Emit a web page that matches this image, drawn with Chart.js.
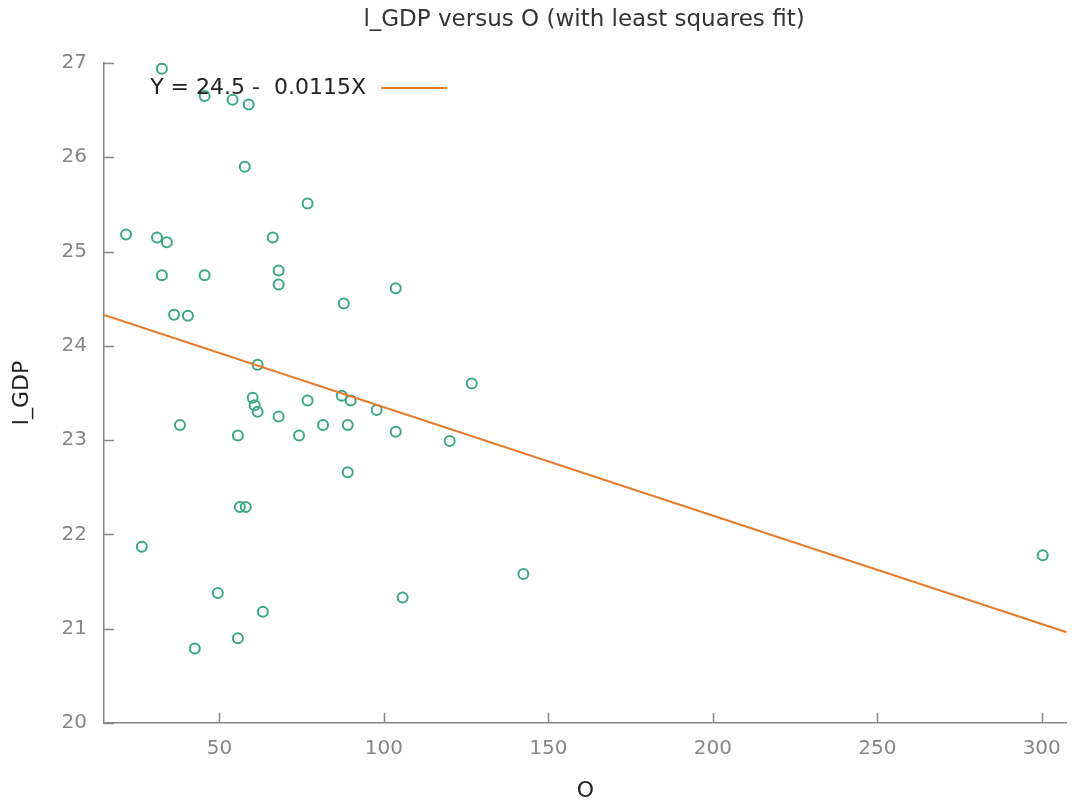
<!DOCTYPE html>
<html>
<head>
<meta charset="utf-8">
<script src="https://cdn.jsdelivr.net/npm/chart.js@4.4.0/dist/chart.umd.min.js"></script>
<style>
  html, body { margin: 0; padding: 0; background: #fff; }
  #wrap { width: 1075px; height: 805px; }
</style>
</head>
<body>
<div id="wrap"><canvas id="scatterChart"></canvas></div>
<script>
const CHART = document.getElementById("scatterChart");

// O values (x) and l_GDP values (y)
var o_values = [32.5, 45.5, 54.0, 58.9, 57.7, 76.8, 21.6, 31.0, 34.0, 66.2,
                32.5, 45.5, 68.0, 68.0, 87.8, 103.6, 36.2, 40.4, 61.6, 126.7,
                60.1, 60.7, 61.6, 68.0, 76.8, 87.2, 89.9, 97.8, 38.0, 55.6,
                74.2, 81.5, 89.0, 103.6, 120.0, 89.0, 56.2, 58.0, 26.4, 300.3,
                142.4, 49.5, 105.7, 63.2, 55.6, 42.5];
var lgdp_values = [26.94, 26.65, 26.61, 26.56, 25.90, 25.51, 25.18, 25.15, 25.10, 25.15,
                   24.75, 24.75, 24.80, 24.65, 24.45, 24.61, 24.33, 24.32, 23.80, 23.60,
                   23.45, 23.37, 23.30, 23.25, 23.42, 23.47, 23.42, 23.32, 23.16, 23.05,
                   23.05, 23.16, 23.16, 23.09, 22.99, 22.66, 22.29, 22.29, 21.87, 21.78,
                   21.58, 21.38, 21.33, 21.18, 20.90, 20.79];

var x_ticks = [50, 100, 150, 200, 250, 300];
var y_ticks = [20, 21, 22, 23, 24, 25, 26, 27];
var x_range = [14.9, 307.6];

// least squares fit from the key
var fit_intercept = 24.5;
var fit_slope = -0.0115;
var fit_label = "Y = 24.5 -  0.0115X";

var points = o_values.map(function(v, i) { return {x: v, y: lgdp_values[i]}; });
var fitLine = x_range.map(function(v) { return {x: v, y: fit_intercept + fit_slope * v}; });

const FONT = "'DejaVu Sans', Verdana, sans-serif";
const AXIS_GREY = "#868686";
const ORANGE = "#e8782a";

// gnuplot style: ticks point into the plot, title and key drawn on top
var extras = {
  id: "extras",
  afterDraw: function(chart) {
    var ctx = chart.ctx;
    var xs = chart.scales.x, ys = chart.scales.y;
    ctx.save();
    ctx.strokeStyle = AXIS_GREY;
    ctx.lineWidth = 1.5;
    ctx.beginPath();
    x_ticks.forEach(function(t) {
      var px = Math.round(xs.getPixelForValue(t)) + 0.5;
      ctx.moveTo(px, ys.bottom);
      ctx.lineTo(px, ys.bottom - 10);
    });
    y_ticks.forEach(function(t) {
      var py = Math.round(ys.getPixelForValue(t)) + 0.5;
      ctx.moveTo(xs.left, py);
      ctx.lineTo(xs.left + 10, py);
    });
    ctx.stroke();

    // title
    ctx.fillStyle = "#333";
    ctx.font = "23px " + FONT;
    ctx.textAlign = "center";
    ctx.textBaseline = "middle";
    ctx.fillText("l_GDP versus O (with least squares fit)", 584, 20);

    // key
    ctx.font = "22px " + FONT;
    ctx.fillStyle = "#222";
    ctx.textAlign = "right";
    ctx.fillText(fit_label, 366, 88);
    ctx.strokeStyle = ORANGE;
    ctx.lineWidth = 2;
    ctx.beginPath();
    ctx.moveTo(381, 88);
    ctx.lineTo(447, 88);
    ctx.stroke();
    ctx.restore();
  }
};

let scatterChart = new Chart(CHART, {
  type: "scatter",
  data: {
    datasets: [
      {
        type: "line",
        label: fit_label,
        data: fitLine,
        borderColor: ORANGE,
        borderWidth: 2,
        pointRadius: 0,
        fill: false
      },
      {
        label: "l_GDP",
        data: points,
        pointStyle: "circle",
        pointRadius: 5,
        borderWidth: 2,
        borderColor: "#3aa880",
        backgroundColor: "rgba(0,0,0,0)"
      }
    ]
  },
  options: {
    responsive: true,
    maintainAspectRatio: false,
    animation: false,
    layout: { padding: { top: 63, right: 7, bottom: 0, left: 0 } },
    plugins: {
      legend: { display: false },
      title: { display: false },
      tooltip: { enabled: false }
    },
    scales: {
      x: {
        type: "linear",
        min: x_range[0],
        max: x_range[1],
        afterBuildTicks: function(scale) {
          scale.ticks = x_ticks.map(function(v) { return {value: v}; });
        },
        afterFit: function(scale) { scale.height = 82; },
        grid: { display: false, drawTicks: false },
        border: { display: true, color: AXIS_GREY, width: 1.5 },
        ticks: { color: AXIS_GREY, padding: 14, maxRotation: 0, font: { family: FONT, size: 20 } },
        title: { display: true, text: "O", color: "#222", padding: { top: 0, bottom: 1 }, font: { family: FONT, size: 22 } }
      },
      y: {
        type: "linear",
        min: 20,
        max: 27,
        afterBuildTicks: function(scale) {
          scale.ticks = y_ticks.map(function(v) { return {value: v}; });
        },
        afterFit: function(scale) { scale.width = 104; },
        grid: { display: false, drawTicks: false },
        border: { display: true, color: AXIS_GREY, width: 1.5 },
        ticks: { color: AXIS_GREY, padding: 17, font: { family: FONT, size: 20 } },
        title: { display: true, text: "l_GDP", color: "#222", padding: { top: 9, bottom: 0 }, font: { family: FONT, size: 22 } }
      }
    }
  },
  plugins: [extras]
});
</script>
</body>
</html>
